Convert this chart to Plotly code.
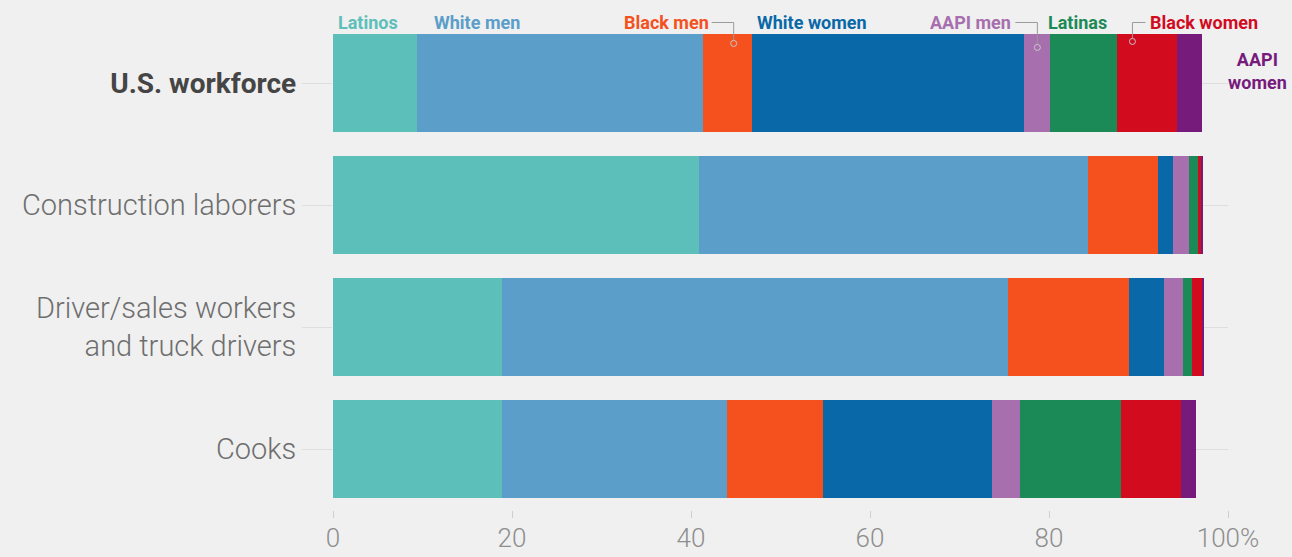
import plotly.graph_objects as go

categories = ["U.S. workforce", "Construction laborers",
              "Driver/sales workers<br>and truck drivers", "Cooks"]
tick_labels = ["<b><span style='color:#454545;font-size:28px'>U.S. workforce</span></b>",
               "Construction laborers",
               "Driver/sales workers<br>and truck drivers", "Cooks"]

series_names = ["Latinos", "White men", "Black men", "White women",
                "AAPI men", "Latinas", "Black women", "AAPI women"]
latinos = [9.35, 40.9, 18.9, 18.9]
white_men = [32.0, 43.5, 56.5, 25.1]
black_men = [5.5, 7.8, 13.5, 10.8]
white_women = [30.4, 1.7, 4.0, 18.8]
aapi_men = [2.9, 1.7, 2.1, 3.2]
latinas = [7.5, 1.1, 1.0, 11.2]
black_women = [6.7, 0.3, 1.2, 6.7]
aapi_women = [2.8, 0.1, 0.1, 1.7]
series_values = [latinos, white_men, black_men, white_women,
                 aapi_men, latinas, black_women, aapi_women]
colors = ["#5cbfba", "#5b9ec9", "#f4511e", "#0868a8",
          "#a76fad", "#1b8a57", "#d20b1f", "#761b7c"]

x_tickvals = [0, 20, 40, 60, 80, 100]
x_ticktext = ["0", "20", "40", "60", "80", "100%"]

fig = go.Figure()
for name, vals, col in zip(series_names, series_values, colors):
    fig.add_trace(go.Bar(y=categories, x=vals, name=name, orientation="h",
                         marker=dict(color=col, line=dict(width=0)),
                         showlegend=False))

# segment bounds of first bar (U.S. workforce)
starts, ends = [], []
acc = 0.0
for vals in series_values:
    starts.append(acc)
    acc += vals[0]
    ends.append(acc)

H_TOP, H_BOT = 21.5, 510.5


def py(p):
    return (H_BOT - p) / (H_BOT - H_TOP)


annos = []
lab_font = dict(family="Roboto", size=18, weight="bold")
label_y = py(22)


def add_label(text, i, shift, anchor):
    annos.append(dict(x=starts[i], xref="x", y=label_y, yref="paper",
                      text=text, showarrow=False, xanchor=anchor,
                      yanchor="middle", xshift=shift,
                      font=dict(color=colors[i], **lab_font)))


shapes = []


def connector(i, circ_off, line_to_off, circ_y):
    mid = (starts[i] + ends[i]) / 2
    shapes.append(dict(type="path", xref="x", xsizemode="pixel", xanchor=mid,
                       yref="paper",
                       path=f"M {line_to_off},{label_y} L {circ_off},{label_y} L {circ_off},{py(circ_y - 3)}",
                       line=dict(color="#9a9a9a", width=1)))
    shapes.append(dict(type="circle", xref="x", xsizemode="pixel", xanchor=mid,
                       yref="paper", ysizemode="pixel", yanchor=py(circ_y),
                       x0=circ_off - 3, x1=circ_off + 3, y0=-3, y1=3,
                       line=dict(color="#c8c8c8", width=1),
                       fillcolor="rgba(0,0,0,0)"))
    return mid


add_label("Latinos", 0, 3, "left")
add_label("White men", 1, 15, "left")
add_label("White women", 3, 3, "left")
add_label("Latinas", 5, -4, "left")

mid = connector(2, 6, -16, 43)
annos.append(dict(x=mid, xref="x", y=label_y, yref="paper", text="Black men",
                  showarrow=False, xanchor="right", yanchor="middle", xshift=-17,
                  font=dict(color=colors[2], **lab_font)))
mid = connector(4, 0, -22, 47)
annos.append(dict(x=mid, xref="x", y=label_y, yref="paper", text="AAPI men",
                  showarrow=False, xanchor="right", yanchor="middle", xshift=-24,
                  font=dict(color=colors[4], **lab_font)))
mid = connector(6, -15, -2, 41)
annos.append(dict(x=mid, xref="x", y=label_y, yref="paper", text="Black women",
                  showarrow=False, xanchor="left", yanchor="middle", xshift=1,
                  font=dict(color=colors[6], **lab_font)))
annos.append(dict(x=ends[7], xref="x", y=py(71), yref="paper", text="AAPI<br>women",
                  showarrow=False, xanchor="left", yanchor="middle", xshift=24,
                  align="center",
                  font=dict(color=colors[7], **lab_font)))

fig.update_layout(
    barmode="stack", bargap=0.2,
    width=1292, height=557,
    margin=dict(l=333, r=64, t=21.5, b=46.5),
    paper_bgcolor="#f0f0f0", plot_bgcolor="#f0f0f0",
    annotations=annos, shapes=shapes,
    xaxis=dict(range=[0, 100], tickvals=x_tickvals, ticktext=x_ticktext,
               showgrid=False, zeroline=False, showline=False, automargin=False,
               ticks="outside", ticklen=7, tickcolor="#cfcfcf",
               ticklabelstandoff=-2,
               tickfont=dict(family="Roboto", size=26, color="#8e8e8e", weight=300)),
    yaxis=dict(autorange="reversed", tickvals=categories, ticktext=tick_labels,
               showgrid=True, gridcolor="#dedede", zeroline=False, automargin=False,
               ticks="outside", ticklen=30, tickcolor="#dedede",
               tickfont=dict(family="Roboto", size=29, color="#6e6e6e", weight=300)),
)

fig.write_html("out.html")
